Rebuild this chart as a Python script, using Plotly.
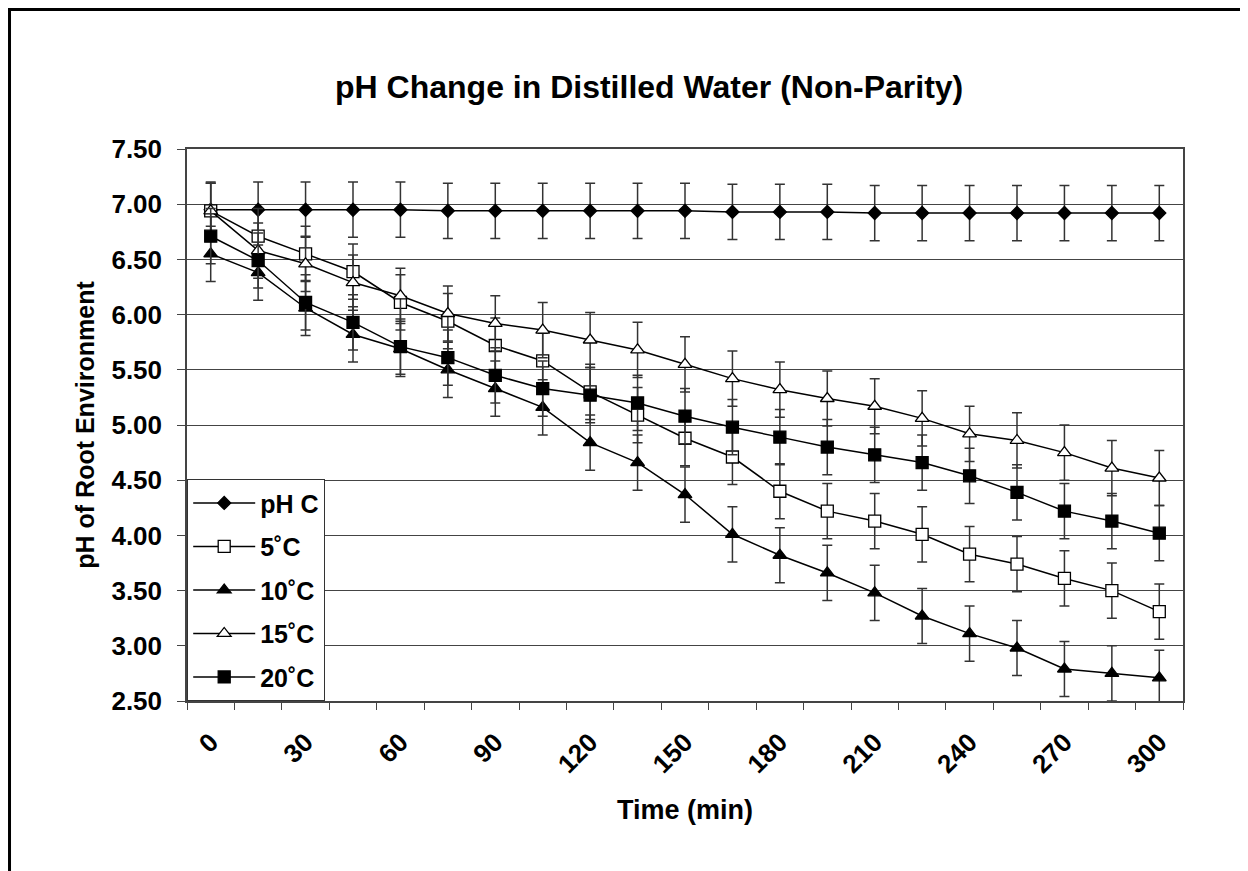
import plotly.graph_objects as go

# ---- data ----
time_min = [0, 15, 30, 45, 60, 75, 90, 105, 120, 135, 150, 165, 180, 195, 210, 225, 240, 255, 270, 285, 300]
tick_vals = [0, 30, 60, 90, 120, 150, 180, 210, 240, 270, 300]
tick_text = ["0", "30", "60", "90", "120", "150", "180", "210", "240", "270", "300"]

ph_c = [6.95, 6.95, 6.95, 6.95, 6.95, 6.94, 6.94, 6.94, 6.94, 6.94, 6.94, 6.93, 6.93, 6.93, 6.92, 6.92, 6.92, 6.92, 6.92, 6.92, 6.92]
t5 = [6.94, 6.71, 6.55, 6.39, 6.11, 5.94, 5.72, 5.58, 5.30, 5.09, 4.88, 4.71, 4.40, 4.22, 4.13, 4.01, 3.83, 3.74, 3.61, 3.50, 3.31]
t10 = [6.55, 6.38, 6.06, 5.82, 5.69, 5.50, 5.33, 5.16, 4.84, 4.66, 4.37, 4.01, 3.82, 3.66, 3.48, 3.27, 3.11, 2.98, 2.79, 2.75, 2.71]
t15 = [6.94, 6.58, 6.46, 6.29, 6.17, 6.01, 5.92, 5.86, 5.77, 5.68, 5.55, 5.42, 5.32, 5.24, 5.17, 5.06, 4.92, 4.86, 4.75, 4.61, 4.52]
t20 = [6.71, 6.49, 6.11, 5.93, 5.71, 5.61, 5.45, 5.33, 5.27, 5.20, 5.08, 4.98, 4.89, 4.80, 4.73, 4.66, 4.54, 4.39, 4.22, 4.13, 4.02]

series_names = ["pH C", "5˚C", "10˚C", "15˚C", "20˚C"]
series_values = [ph_c, t5, t10, t15, t20]
series_errors = [0.25, 0.25, 0.25, 0.25, 0.25]

# ---- styles ----
symbols = ["diamond", "square", "triangle-up", "triangle-up", "square"]
fills = ["black", "white", "black", "white", "black"]
sizes = [10, 12, 12, 12, 12]

FONT = "Liberation Sans, Arial, sans-serif"
GRAY = "#444444"

fig = go.Figure()
for name, vals, err, sym, fill, sz in zip(series_names, series_values, series_errors, symbols, fills, sizes):
    fig.add_trace(go.Scatter(
        x=time_min, y=vals, name=name, legendgroup=name,
        mode="lines+markers",
        line=dict(color="black", width=1.5),
        marker=dict(symbol=sym, size=sz, color=fill, line=dict(color="black", width=1.3)),
        error_y=dict(type="constant", value=err, color="#333333", thickness=1.5, width=5),
    ))

fig.update_layout(
    width=1248, height=871,
    margin=dict(l=179, r=73, t=141, b=178),
    paper_bgcolor="white", plot_bgcolor="white",
    font=dict(family=FONT, color="black"),
    title=dict(text="<b>pH Change in Distilled Water (Non-Parity)</b>",
               font=dict(size=32, family=FONT, color="black"),
               xref="paper", x=0.464, xanchor="center",
               yref="container", y=0.909, yanchor="middle"),
    showlegend=True,
    legend=dict(x=0, y=0, xanchor="left", yanchor="bottom",
                bgcolor="white", bordercolor="#333333", borderwidth=1.2,
                font=dict(size=25, family=FONT, color="black", weight="bold"),
                tracegroupgap=8, itemwidth=62),
    shapes=[dict(type="rect", xref="paper", yref="paper",
                 x0=-0.1782, x1=1.2, y0=-0.4, y1=1.2527,
                 line=dict(color="black", width=3), fillcolor="rgba(0,0,0,0)", layer="above")],
)

fig.update_yaxes(
    range=[2.5, 7.5], dtick=0.5, tick0=2.5, tickformat=".2f",
    showgrid=True, gridcolor=GRAY, gridwidth=1.3, zeroline=False,
    ticks="outside", ticklen=8, tickwidth=1.3, tickcolor=GRAY,
    showline=True, linecolor=GRAY, linewidth=1.5, mirror=True,
    tickfont=dict(size=26, family=FONT, color="black", weight="bold"),
    ticklabelstandoff=10,
    title=dict(text="<b>pH of Root Environment</b>", font=dict(size=25, family=FONT, color="black"), standoff=10),
)

fig.update_xaxes(
    range=[-7.5, 307.5], tickmode="array", tickvals=tick_vals, ticktext=tick_text,
    tickangle=-45, ticks="", showgrid=False, zeroline=False,
    showline=True, linecolor=GRAY, linewidth=1.5, mirror=True,
    tickfont=dict(size=26, family=FONT, color="black", weight="bold"),
    ticklabelstandoff=14,
    minor=dict(ticks="outside", ticklen=7, tickwidth=1.3, tickcolor=GRAY,
               tickmode="linear", tick0=-7.5, dtick=15, showgrid=False),
    title=dict(text="<b>Time (min)</b>", font=dict(size=27, family=FONT, color="black"), standoff=22),
)

fig.write_html("out.html")
